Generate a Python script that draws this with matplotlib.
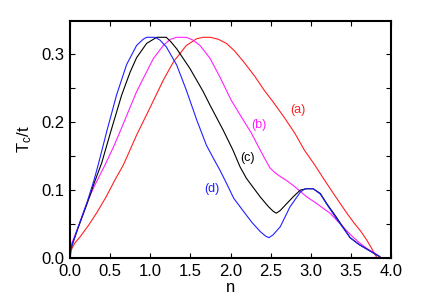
import matplotlib
matplotlib.use("Agg")
import matplotlib.pyplot as plt
from matplotlib.ticker import MultipleLocator, FormatStrFormatter

plt.rcParams['font.family'] = ['Liberation Sans', 'DejaVu Sans']

# (a) red
n_a = [0, 0.02, 0.06, 0.125, 0.23, 0.33, 0.45, 0.56, 0.665, 0.83, 1.0, 1.163, 1.29, 1.45, 1.58,
       1.66, 1.75, 1.85, 1.95, 2.05, 2.17, 2.3, 2.42, 2.53, 2.67, 2.8, 2.92, 3.05, 3.17, 3.3, 3.45,
       3.55, 3.62, 3.70, 3.76, 3.80, 3.83]
t_a = [0, 0.013, 0.022, 0.031, 0.048, 0.066, 0.090, 0.115, 0.137, 0.181, 0.222, 0.262, 0.289,
       0.313, 0.323, 0.325, 0.325, 0.322, 0.316, 0.305, 0.288, 0.268, 0.247, 0.230, 0.207, 0.184,
       0.159, 0.137, 0.115, 0.092, 0.066, 0.050, 0.040, 0.026, 0.014, 0.005, 0.0]

# (b) magenta
n_b = [0, 0.1, 0.21, 0.3, 0.436, 0.54, 0.623, 0.83, 1.04, 1.163, 1.25, 1.33, 1.45, 1.53, 1.62,
       1.745, 1.87, 2.01, 2.16, 2.26, 2.33, 2.41, 2.49, 2.56, 2.62, 2.70, 2.78, 2.87, 2.95, 3.04,
       3.24, 3.49, 3.60, 3.70, 3.80, 3.86]
t_b = [0.015, 0.045, 0.081, 0.105, 0.137, 0.163, 0.186, 0.245, 0.294, 0.313, 0.322, 0.325, 0.325,
       0.321, 0.313, 0.294, 0.266, 0.232, 0.203, 0.184, 0.168, 0.150, 0.133, 0.125, 0.120, 0.114,
       0.107, 0.098, 0.090, 0.083, 0.066, 0.035, 0.023, 0.014, 0.007, 0.002]

# (c) black
n_c = [0, 0.1, 0.21, 0.3, 0.395, 0.5, 0.644, 0.75, 0.83, 0.955, 1.08, 1.2, 1.26, 1.33, 1.495,
       1.66, 1.745, 1.91, 2.03, 2.12, 2.2, 2.37, 2.47, 2.53, 2.57, 2.62, 2.70, 2.78, 2.87, 2.95,
       3.03, 3.12, 3.2, 3.32, 3.49, 3.60, 3.70, 3.80, 3.86]
t_c = [0.01, 0.044, 0.079, 0.110, 0.140, 0.183, 0.240, 0.274, 0.295, 0.316, 0.325, 0.325, 0.318,
       0.308, 0.279, 0.245, 0.225, 0.188, 0.159, 0.134, 0.117, 0.090, 0.076, 0.069, 0.066, 0.070,
       0.080, 0.090, 0.100, 0.102, 0.102, 0.095, 0.080, 0.060, 0.030, 0.020, 0.013, 0.006, 0.002]

# (d) blue
n_d = [0, 0.1, 0.21, 0.3, 0.353, 0.457, 0.58, 0.706, 0.83, 0.91, 0.955, 1.06, 1.12, 1.2, 1.33,
       1.45, 1.58, 1.70, 1.80, 1.87, 1.95, 2.04, 2.16, 2.27, 2.37, 2.44, 2.48, 2.53, 2.62, 2.74,
       2.87, 2.93, 3.03, 3.12, 3.2, 3.32, 3.49, 3.60, 3.70, 3.80, 3.86]
t_d = [0.01, 0.045, 0.081, 0.115, 0.138, 0.186, 0.240, 0.285, 0.313, 0.322, 0.325, 0.325, 0.321,
       0.311, 0.284, 0.247, 0.203, 0.166, 0.144, 0.129, 0.110, 0.088, 0.069, 0.052, 0.039, 0.032,
       0.030, 0.034, 0.046, 0.075, 0.097, 0.102, 0.102, 0.094, 0.079, 0.058, 0.030, 0.020, 0.013,
       0.006, 0.002]

labels = ['(a)', '(b)', '(c)', '(d)']
label_pos_n = [2.84, 2.35, 2.21, 1.77]
label_pos_t = [0.218, 0.196, 0.147, 0.101]
colors = ['#ff2020', '#ff20ff', '#000000', '#2020ff']

fig = plt.figure(figsize=(4.28, 3.0), dpi=100)
ax = fig.add_axes([70/428, 42/300, 321/428, 237/300])

for n, t, c in zip([n_a, n_b, n_c, n_d], [t_a, t_b, t_c, t_d], colors):
    ax.plot(n, t, color=c, lw=0.8)

for lab, x, y, c in zip(labels, label_pos_n, label_pos_t, colors):
    ax.text(x, y, lab, color=c, fontsize=9, ha='center', va='center')

ax.set_xlim(0, 4.0)
ax.set_ylim(0, 0.349)
ax.xaxis.set_major_locator(MultipleLocator(0.5))
ax.yaxis.set_major_locator(MultipleLocator(0.1))
ax.yaxis.set_minor_locator(MultipleLocator(0.05))
ax.xaxis.set_major_formatter(FormatStrFormatter('%.1f'))
ax.yaxis.set_major_formatter(FormatStrFormatter('%.1f'))
ax.tick_params(which='both', direction='in', top=True, right=True, labelsize=12,
               length=3.5, width=0.8, pad=4)
for s in ax.spines.values():
    s.set_linewidth(1.5)

ax.set_xlabel('n', fontsize=12, labelpad=1)
ax.set_ylabel(r'$\mathregular{T_c/t}$', fontsize=12, labelpad=5)

fig.savefig('out.png', dpi=100)
